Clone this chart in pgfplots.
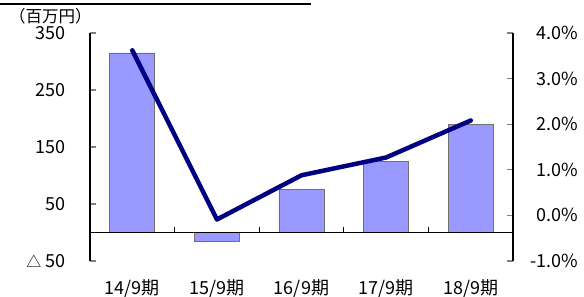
\documentclass[border=0pt]{standalone}
\usepackage{pgfplots}
\pgfplotsset{compat=1.18}
\usepackage{fontspec}
\setmainfont{Noto Sans CJK JP}
\definecolor{barfill}{HTML}{9999FF}
\definecolor{bardraw}{HTML}{707070}
\definecolor{linecol}{HTML}{000080}
\begin{document}
\begin{tikzpicture}[font=\fontsize{18}{20}\selectfont]
\useasboundingbox (-90pt,-36pt) rectangle (494pt,261pt);
\draw[line width=1.5pt] (-90pt,257pt) -- (221pt,257pt);
\begin{axis}[
  at={(0,0)}, anchor=south west,
  scale only axis, width=423pt, height=228pt,
  xmin=-0.5, xmax=4.5, ymin=-50, ymax=350,
  axis y line*=left, axis x line*=bottom,
  x axis line style={draw=none},
  y axis line style={line width=1.2pt, -},
  xtick={0,1,2,3,4},
  xticklabels={14/9期,15/9期,16/9期,17/9期,18/9期},
  major x tick style={draw=none},
  xticklabel style={yshift=-15pt},
  ytick={-50,50,150,250,350},
  yticklabels={{{\fontsize{15}{16}\selectfont △}\hspace{4pt}50},50,150,250,350},
  yticklabel style={xshift=-21pt},
  major y tick style={line width=1.2pt},
  tick align=inside, major tick length=6pt,
  clip=false,
]
\addplot[ybar, bar width=45pt, fill=barfill, draw=bardraw, line width=0.8pt] coordinates {
 (0,315) (1,-15) (2,76) (3,124) (4,190)
};
\draw[line width=1.2pt] (axis cs:-0.5,0) -- (axis cs:4.5,0);
\draw[line width=1.2pt] (axis cs:0.5,0) -- (axis cs:0.5,10.5);
\draw[line width=1.2pt] (axis cs:1.5,0) -- (axis cs:1.5,10.5);
\draw[line width=1.2pt] (axis cs:2.5,0) -- (axis cs:2.5,10.5);
\draw[line width=1.2pt] (axis cs:3.5,0) -- (axis cs:3.5,10.5);
\end{axis}
\node[anchor=north west, inner sep=0pt, font=\fontsize{16.5}{17}\selectfont] at (-81pt,253pt) {（百万円）};
\begin{axis}[
  at={(0,0)}, anchor=south west,
  scale only axis, width=423pt, height=228pt,
  xmin=-0.5, xmax=4.5, ymin=-1, ymax=4,
  axis y line*=right, axis x line=none,
  y axis line style={line width=1.2pt, -},
  ytick={-1,0,1,2,3,4},
  yticklabels={-1.0\%,0.0\%,1.0\%,2.0\%,3.0\%,4.0\%},
  yticklabel style={anchor=east, xshift=69pt},
  major y tick style={line width=1.2pt},
  tick align=inside, major tick length=6pt,
  clip=false,
]
\addplot[linecol, line width=4.5pt, line cap=round, line join=round, mark=none] coordinates {
 (0,3.62) (1,-0.09) (2,0.88) (3,1.27) (4,2.08)
};
\end{axis}
\end{tikzpicture}
\end{document}
